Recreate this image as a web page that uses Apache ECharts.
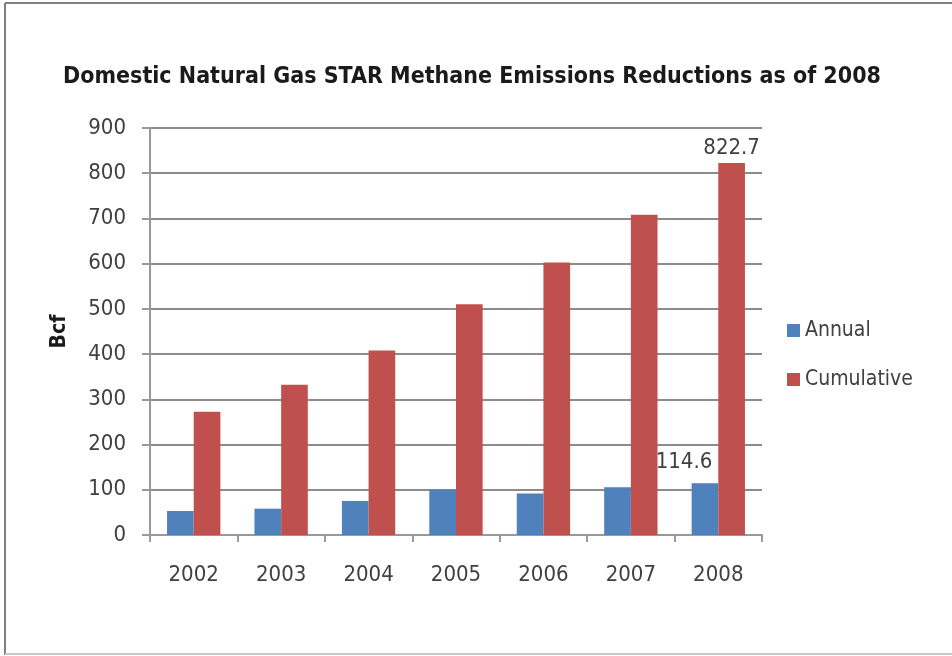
<!DOCTYPE html>
<html>
<head>
<meta charset="utf-8">
<script src="https://cdn.jsdelivr.net/npm/echarts@6/dist/echarts.min.js"></script>
<style>
html,body{margin:0;padding:0;background:#fff;}
#chart{width:952px;height:656px;}
</style>
</head>
<body>
<div id="chart"></div>
<script>
var categories = ['2002', '2003', '2004', '2005', '2006', '2007', '2008'];
var annual = [53.1, 58.2, 75.3, 100.6, 92.0, 105.4, 114.6];
var cumulative = [272.4, 332.5, 408.0, 510.2, 602.4, 707.9, 822.7];
var yTicks = [0, 100, 200, 300, 400, 500, 600, 700, 800, 900];
var labelledIndex = 6;

var FONT = '"Liberation Sans Narrow", "DejaVu Sans Condensed", "Liberation Sans", sans-serif';
var chart = echarts.init(document.getElementById('chart'));

function lastLabel(arr, offsetX, dist) {
  return arr.map(function (v, i) {
    if (i !== labelledIndex) return v;
    return {
      value: v,
      label: {
        show: true, position: 'top', distance: dist, offset: [offsetX, 0],
        color: '#404040', fontFamily: FONT, fontSize: 22,
        formatter: function (p) { return String(p.value); }
      }
    };
  });
}

chart.setOption({
  animation: false,
  backgroundColor: '#ffffff',
  title: {
    text: 'Domestic Natural Gas STAR Methane Emissions Reductions as of 2008',
    left: 467, top: 61, textAlign: 'center',
    textStyle: { fontFamily: FONT, fontWeight: 'bold', fontSize: 23, color: '#1a1a1a' }
  },
  legend: {
    orient: 'vertical', left: 782, top: 315, itemGap: 28,
    itemWidth: 13, itemHeight: 13, icon: 'rect',
    textStyle: { fontFamily: FONT, fontSize: 21, color: '#404040' },
    data: ['Annual', 'Cumulative']
  },
  grid: { left: 150, right: 190, top: 128, bottom: 121, containLabel: false },
  xAxis: {
    type: 'category', data: categories,
    axisLine: { lineStyle: { color: '#999999', width: 2 } },
    axisTick: { show: true, length: 7, alignWithLabel: false, lineStyle: { color: '#999999', width: 2 } },
    axisLabel: { fontFamily: FONT, fontSize: 22, color: '#404040', margin: 29 }
  },
  yAxis: {
    type: 'value', min: 0, max: 900, interval: 100,
    name: 'Bcf', nameLocation: 'middle', nameGap: 80, nameRotate: 90,
    nameTextStyle: { fontFamily: FONT, fontWeight: 'bold', fontSize: 21, color: '#1a1a1a' },
    axisLine: { show: true, lineStyle: { color: '#999999', width: 2 } },
    axisTick: { show: true, length: 8, lineStyle: { color: '#999999', width: 2 } },
    axisLabel: {
      fontFamily: FONT, fontSize: 22, color: '#404040', margin: 24,
      formatter: function (v) { return yTicks.indexOf(v) >= 0 ? String(v) : ''; }
    },
    splitLine: { show: true, lineStyle: { color: '#8c8c8c', width: 2 } }
  },
  series: [
    {
      name: 'Annual', type: 'bar', data: lastLabel(annual, -21, 10),
      itemStyle: { color: '#4f81bd' }, barGap: '0%', barCategoryGap: '39%'
    },
    {
      name: 'Cumulative', type: 'bar', data: lastLabel(cumulative, 0, 4),
      itemStyle: { color: '#c0504d' }, barGap: '0%', barCategoryGap: '39%'
    }
  ],
  graphic: [
    { type: 'line', shape: { x1: 5, y1: 3, x2: 952, y2: 3 }, style: { stroke: '#7f7f7f', lineWidth: 2 } },
    { type: 'line', shape: { x1: 5, y1: 3, x2: 5, y2: 655 }, style: { stroke: '#7f7f7f', lineWidth: 2 } },
    { type: 'line', shape: { x1: 5, y1: 654, x2: 952, y2: 654 }, style: { stroke: '#c8c8c8', lineWidth: 2 } }
  ]
});
</script>
</body>
</html>
